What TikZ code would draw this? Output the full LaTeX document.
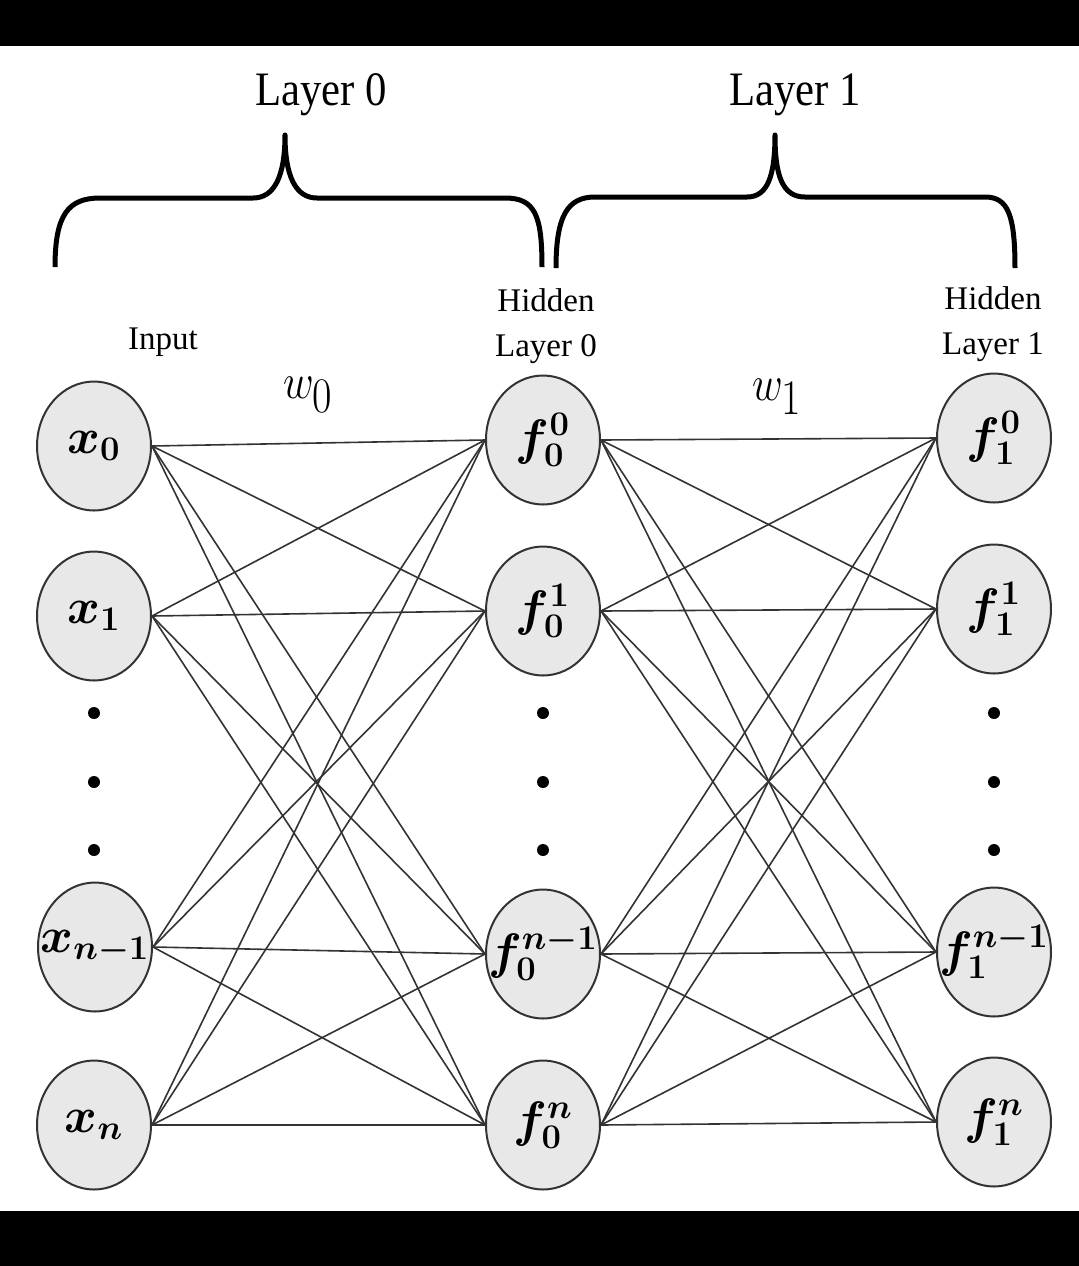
\documentclass[tikz,border=0pt]{standalone}
\usepackage{fontspec}
\setmainfont{Liberation Serif}
\usepackage{bm}
\usetikzlibrary{positioning, shapes.geometric}

\newcommand{\nlabel}[1]{\makebox[0pt]{$\bm{#1}$}}

\tikzset{
  neuron/.style = {ellipse, draw=black!80, line width=1pt, fill=black!9,
    minimum width=57pt, minimum height=64.5pt, inner sep=0pt,
    font=\fontsize{24}{28}\selectfont},
  wire/.style = {draw=black!80, line width=0.8pt},
  brace/.style = {line width=2.5pt, line join=round},
  layerlabel/.style = {anchor=base, inner sep=0pt, xscale=0.89, font=\fontsize{24}{28}\selectfont},
  smalllabel/.style = {inner sep=0pt, align=center, font=\fontsize{16.5}{22.5}\selectfont},
  weight/.style = {anchor=base, inner sep=0pt, xscale=0.85, font=\fontsize{34}{38}\selectfont},
}

\begin{document}
\begin{tikzpicture} [x=0.5pt, y=-0.5pt]
    \useasboundingbox (0,0) rectangle (1079,1266);
    \fill [black] (0,0) rectangle (1079,46);
    \fill [black] (0,1211) rectangle (1079,1266);

    % input column
    \node (x0) [neuron] at (94,446) {\nlabel{x_0}};
    \node (x1) [neuron] at (94,616) {\nlabel{x_1}};
    \node (xn1) [neuron] at (95,947) {\nlabel{x_{n-1}}};
    \node (xn) [neuron] at (94,1125) {\nlabel{x_n}};

    % hidden layer 0
    \node (f00) [neuron] at (543,440) {\nlabel{f_0^0}};
    \node (f01) [neuron] at (543,611) {\nlabel{f_0^1}};
    \node (f0n1) [neuron] at (543,954) {\nlabel{f_0^{n-1}}};
    \node (f0n) [neuron] at (543,1125) {\nlabel{f_0^n}};

    % hidden layer 1
    \node (f10) [neuron] at (994,438) {\nlabel{f_1^0}};
    \node (f11) [neuron] at (994,609) {\nlabel{f_1^1}};
    \node (f1n1) [neuron] at (994,952) {\nlabel{f_1^{n-1}}};
    \node (f1n) [neuron] at (994,1122) {\nlabel{f_1^n}};

    \foreach \a in {x0,x1,xn1,xn}
        \foreach \b in {f00,f01,f0n1,f0n}
            \draw [wire] (\a.east) -- (\b.west);
    \foreach \a in {f00,f01,f0n1,f0n}
        \foreach \b in {f10,f11,f1n1,f1n}
            \draw [wire] (\a.east) -- (\b.west);

    % dots between the rows
    \foreach \c in {94,543,994}
        \foreach \r in {713,782,850}
            \fill (\c,\r) circle (3pt);

    % braces
    \draw [brace] (55,267) .. controls (55,215) and (68,198) .. (100,198) -- (253,198)
        .. controls (275,198) and (285,175) .. (285,135)
        .. controls (285,175) and (295,198) .. (317,198) -- (505,198)
        .. controls (535,198) and (542,215) .. (542,267);
    \draw [brace] (556,268) .. controls (556,215) and (568,197) .. (595,197) -- (747,197)
        .. controls (768,197) and (775,175) .. (775,135)
        .. controls (775,175) and (782,197) .. (805,197) -- (985,197)
        .. controls (1008,197) and (1015,215) .. (1015,268);

    \node (layer0) [layerlabel] at (321,105) {Layer 0};
    \node (layer1) [layerlabel] at (795,105) {Layer 1};

    \node (input) [smalllabel, anchor=base] at (163,349) {Input};
    \node (hid0) [smalllabel] at (546,326) {Hidden\\Layer 0};
    \node (hid1) [smalllabel] at (993,324) {Hidden\\Layer 1};

    \node (w0) [weight] at (308,398) {$w_0$};
    \node (w1) [weight] at (777,400) {$w_1$};
\end{tikzpicture}
\end{document}
